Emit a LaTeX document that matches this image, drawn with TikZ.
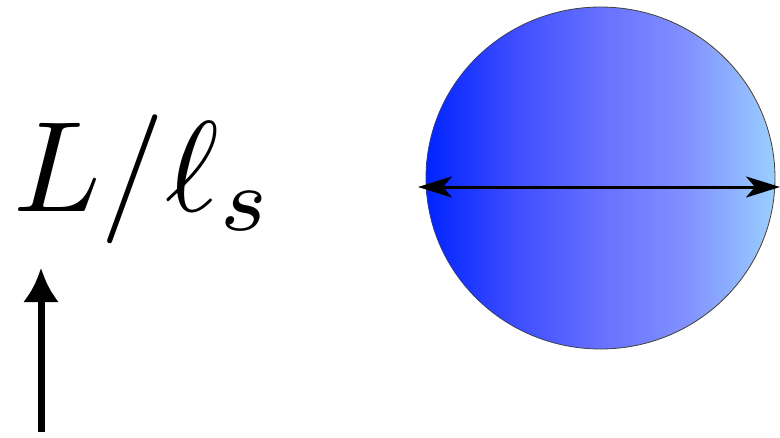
\documentclass[tikz,border=0pt]{standalone}
\usetikzlibrary{arrows.meta,shapes.geometric}
\pgfdeclarehorizontalshading{diskshade}{100bp}{%
  rgb(0bp)=(0,0.14,1);
  rgb(25bp)=(0,0.14,1);
  rgb(37.5bp)=(0.24,0.30,1);
  rgb(50bp)=(0.40,0.44,1);
  rgb(62.5bp)=(0.51,0.57,1);
  rgb(75bp)=(0.60,0.81,1);
  rgb(100bp)=(0.60,0.81,1)}
\tikzset{
  disk/.style={ellipse, inner sep=0pt, minimum width=349pt, minimum height=342pt,
    shading=diskshade, shading angle=0, draw=black!75, line width=0.8pt},
  diam/.style={line width=3pt, {Stealth[length=34pt,width=21pt,inset=9pt]}-{Stealth[length=34pt,width=21pt,inset=9pt]}},
  uparrow/.style={line width=7pt, -{Latex[length=34pt,width=36pt]}},
  lbl/.style={inner sep=0pt, anchor=base west}
}
\begin{document}
\begin{tikzpicture}[x=1pt,y=-1pt]
\useasboundingbox (0,0) rectangle (780,437);
\node[disk] (circ) at (600.5,178) {};
\coordinate (dl) at (418,187);
\coordinate (dr) at (780,187);
\draw[diam] (dl) -- (dr);
\node[lbl] (label) at (13,211) {\scalebox{12.9}{$L/\ell_s$}};
\coordinate (ab) at (41,432);
\coordinate (at) at (41,268);
\draw[uparrow] (ab) -- (at);
\end{tikzpicture}
\end{document}
